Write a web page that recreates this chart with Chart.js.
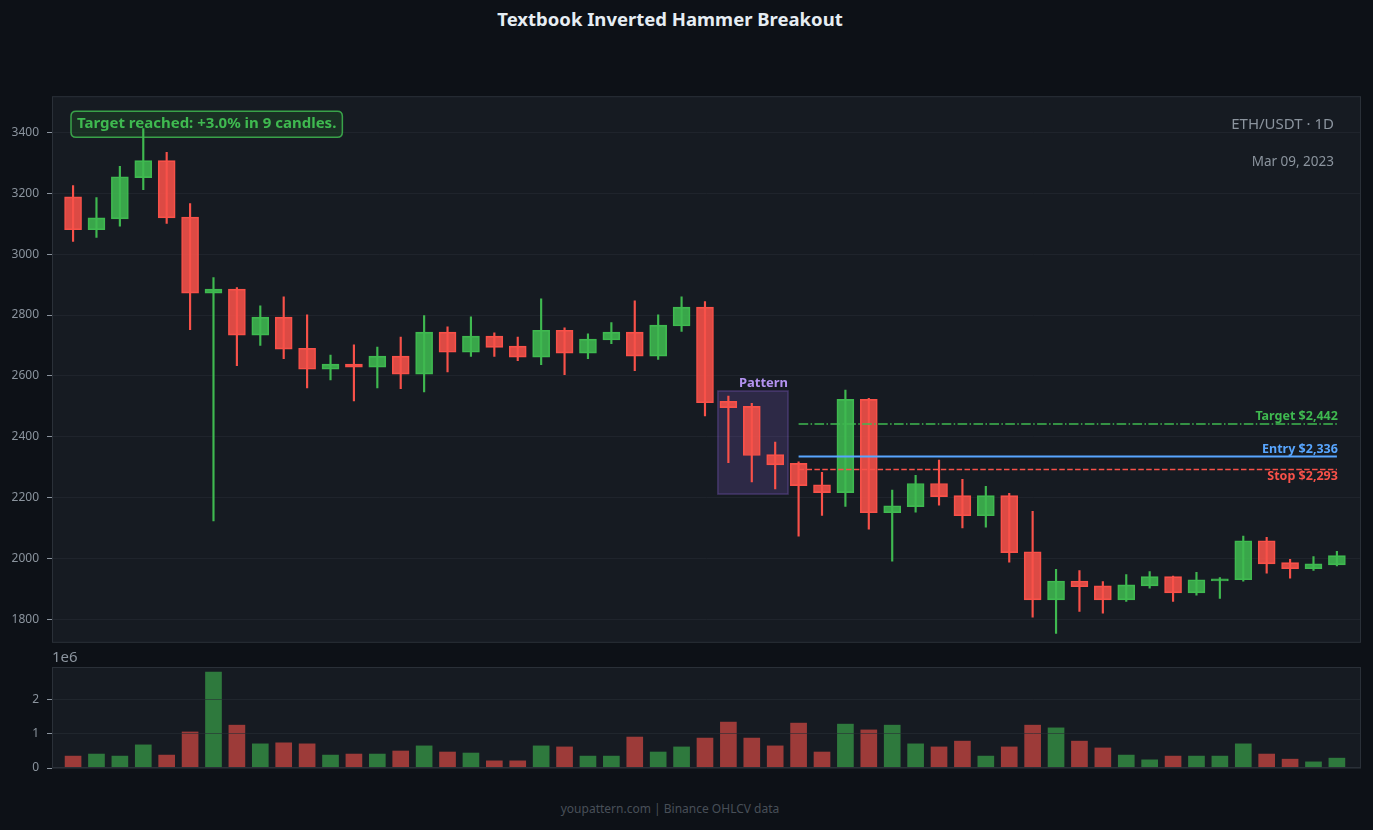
<!DOCTYPE html>
<html>
<head>
<meta charset="utf-8">
<title>Textbook Inverted Hammer Breakout</title>
<script src="https://cdn.jsdelivr.net/npm/chart.js@4.4.1/dist/chart.umd.min.js"></script>
<style>
  html, body { margin: 0; padding: 0; background: #0d1117; width: 1373px; height: 830px; overflow: hidden; font-family: 'Noto Sans', sans-serif; }
  canvas { position: absolute; left: 0; }
  #price { top: 81px; }
  #volume { top: 650px; }
  .txt { position: absolute; line-height: 1; white-space: nowrap; }
  #title { left: 0; width: 1340px; top: 10px; text-align: center; color: #e6edf3; font-weight: 700; font-size: 18.5px; }
  #exp { left: 52px; top: 649px; color: #8b949e; font-size: 15px; }
  #footer { left: 0; width: 1340px; top: 803px; text-align: center; color: #484f58; font-size: 12px; }
</style>
</head>
<body>
<div id="title" class="txt">Textbook Inverted Hammer Breakout</div>
<canvas id="volume" width="1373" height="135"></canvas>
<canvas id="price" width="1373" height="577"></canvas>
<div id="exp" class="txt">1e6</div>
<div id="footer" class="txt">youpattern.com | Binance OHLCV data</div>

<script>
// OHLCV, one entry per daily candle
var opens  = [3188, 3080, 3116, 3251, 3307, 3122, 2872, 2885, 2734, 2793,
              2691, 2622, 2639, 2629, 2665, 2606, 2744, 2678, 2731, 2698,
              2662, 2750, 2675, 2718, 2744, 2665, 2764, 2826, 2517, 2500,
              2342, 2313, 2243, 2217, 2523, 2151, 2171, 2247, 2207, 2141,
              2207, 2023, 1865, 1927, 1911, 1865, 1911, 1941, 1888, 1927,
              1931, 2059, 1987, 1967, 1980];
var highs  = [3225, 3186, 3288, 3412, 3334, 3166, 2923, 2890, 2830, 2860,
              2801, 2669, 2702, 2695, 2728, 2798, 2761, 2794, 2742, 2728,
              2853, 2758, 2738, 2775, 2847, 2801, 2860, 2844, 2534, 2510,
              2383, 2318, 2284, 2554, 2527, 2225, 2274, 2324, 2261, 2238,
              2215, 2156, 1965, 1961, 1925, 1948, 1958, 1943, 1955, 1938,
              2074, 2070, 1998, 2007, 2024];
var lows   = [3042, 3055, 3092, 3212, 3101, 2752, 2124, 2634, 2700, 2657,
              2561, 2587, 2518, 2561, 2558, 2548, 2613, 2664, 2664, 2650,
              2637, 2604, 2657, 2706, 2617, 2654, 2746, 2469, 2315, 2252,
              2229, 2074, 2142, 2172, 2097, 1992, 2153, 2176, 2101, 2104,
              1989, 1808, 1755, 1827, 1821, 1860, 1903, 1860, 1880, 1870,
              1926, 1953, 1936, 1962, 1976];
var closes = [3080, 3119, 3254, 3307, 3119, 2872, 2885, 2734, 2793, 2688,
              2622, 2639, 2629, 2665, 2606, 2744, 2678, 2731, 2694, 2662,
              2750, 2675, 2721, 2744, 2665, 2767, 2826, 2512, 2496, 2339,
              2308, 2240, 2217, 2523, 2151, 2174, 2247, 2204, 2141, 2207,
              2020, 1865, 1927, 1908, 1865, 1914, 1941, 1888, 1931, 1934,
              2059, 1983, 1967, 1983, 2010];
var volumes = [0.35, 0.41, 0.35, 0.68, 0.38, 1.06, 2.82, 1.26, 0.71, 0.74,
               0.71, 0.38, 0.41, 0.41, 0.50, 0.65, 0.47, 0.44, 0.21, 0.21,
               0.65, 0.62, 0.35, 0.35, 0.91, 0.47, 0.62, 0.88, 1.35, 0.88,
               0.65, 1.32, 0.47, 1.29, 1.12, 1.26, 0.71, 0.62, 0.79, 0.35,
               0.62, 1.26, 1.18, 0.79, 0.59, 0.38, 0.24, 0.35, 0.35, 0.35,
               0.71, 0.41, 0.26, 0.18, 0.29].map(function (v) { return v * 1e6; });

var priceTicks = [1800, 2000, 2200, 2400, 2600, 2800, 3000, 3200, 3400];
var volumeTicks = [0, 1e6, 2e6];

// trade levels and pattern candles
var targetPrice = 2442, entryPrice = 2336, stopPrice = 2293;
var levelStart = 31, levelEnd = 54;
var patternStart = 28, patternEnd = 30;

var GREEN = '#3fb950', RED = '#f85149', BLUE = '#58a6ff', PURPLE = '#b392f0';
var TEXT = '#8b949e';

var n = opens.length;
var bodyData = [], wickData = [], volData = [], solid = [], fill = [], volFill = [];
for (var i = 0; i < n; i++) {
    var up = closes[i] >= opens[i];
    bodyData.push({ x: i, y: [opens[i], closes[i]] });
    wickData.push({ x: i, y: [lows[i], highs[i]] });
    volData.push({ x: i, y: volumes[i] });
    solid.push(up ? GREEN : RED);
    fill.push(up ? 'rgba(63,185,80,0.88)' : 'rgba(248,81,73,0.88)');
    volFill.push(up ? 'rgba(63,185,80,0.6)' : 'rgba(248,81,73,0.6)');
}

function level(v) {
    return [{ x: levelStart, y: v }, { x: levelEnd, y: v }];
}

Chart.defaults.font.family = "'Noto Sans', sans-serif";

function areaBg(chart) {
    var a = chart.chartArea, ctx = chart.ctx;
    ctx.save();
    ctx.fillStyle = '#161b22';
    ctx.fillRect(a.left, a.top, a.right - a.left, a.bottom - a.top);
    ctx.restore();
}

function areaBorder(chart) {
    var a = chart.chartArea, ctx = chart.ctx;
    ctx.save();
    ctx.strokeStyle = '#2a3038';
    ctx.lineWidth = 1;
    ctx.strokeRect(a.left + 0.5, a.top + 0.5, a.right - a.left - 1, a.bottom - a.top - 1);
    ctx.restore();
}

function roundRect(ctx, x, y, w, h, r) {
    ctx.beginPath();
    ctx.moveTo(x + r, y);
    ctx.lineTo(x + w - r, y);
    ctx.quadraticCurveTo(x + w, y, x + w, y + r);
    ctx.lineTo(x + w, y + h - r);
    ctx.quadraticCurveTo(x + w, y + h, x + w - r, y + h);
    ctx.lineTo(x + r, y + h);
    ctx.quadraticCurveTo(x, y + h, x, y + h - r);
    ctx.lineTo(x, y + r);
    ctx.quadraticCurveTo(x, y, x + r, y);
    ctx.closePath();
}

var noteText = 'Target reached: +3.0% in 9 candles.';
var noteFont = "bold 15px 'Noto Sans', sans-serif";

var pricePlugin = {
    id: 'priceDeco',
    beforeDraw: areaBg,
    beforeDatasetsDraw: function (chart) {
        var ctx = chart.ctx, a = chart.chartArea;
        var xs = chart.scales.x, ys = chart.scales.y;

        // pattern box around the three candles
        var hi = Math.max.apply(null, highs.slice(patternStart, patternEnd + 1));
        var lo = Math.min.apply(null, lows.slice(patternStart, patternEnd + 1));
        var pad = (hi - lo) * 0.055;
        var x0 = xs.getPixelForValue(patternStart - 0.45);
        var x1 = xs.getPixelForValue(patternEnd + 0.55);
        var y0 = ys.getPixelForValue(hi + pad);
        var y1 = ys.getPixelForValue(lo - pad);
        ctx.save();
        ctx.fillStyle = 'rgba(163,113,247,0.17)';
        ctx.fillRect(x0, y0, x1 - x0, y1 - y0);
        ctx.strokeStyle = 'rgba(163,113,247,0.28)';
        ctx.lineWidth = 1.5;
        ctx.strokeRect(x0, y0, x1 - x0, y1 - y0);
        ctx.fillStyle = PURPLE;
        ctx.font = "bold 13px 'Noto Sans', sans-serif";
        ctx.textAlign = 'right';
        ctx.textBaseline = 'bottom';
        ctx.fillText('Pattern', x1, y0 - 1);

        // note box (top left)
        ctx.font = noteFont;
        var w = ctx.measureText(noteText).width + 12;
        roundRect(ctx, a.left + 19, a.top + 15, w, 26, 5);
        ctx.fillStyle = 'rgba(30,70,38,0.5)';
        ctx.fill();
        ctx.strokeStyle = 'rgba(63,185,80,0.85)';
        ctx.lineWidth = 1.5;
        ctx.stroke();
        ctx.restore();
    },
    afterDatasetsDraw: function (chart) {
        var ctx = chart.ctx, a = chart.chartArea;
        var xs = chart.scales.x, ys = chart.scales.y;
        ctx.save();

        ctx.font = noteFont;
        ctx.fillStyle = GREEN;
        ctx.textAlign = 'left';
        ctx.textBaseline = 'middle';
        ctx.fillText(noteText, a.left + 25, a.top + 28);

        // level labels
        var xr = xs.getPixelForValue(levelEnd) + 1;
        ctx.font = "bold 12.5px 'Noto Sans', sans-serif";
        ctx.textAlign = 'right';
        ctx.textBaseline = 'bottom';
        ctx.fillStyle = GREEN;
        ctx.fillText('Target $' + targetPrice.toLocaleString('en-US'), xr, ys.getPixelForValue(targetPrice) - 1);
        ctx.fillStyle = BLUE;
        ctx.fillText('Entry $' + entryPrice.toLocaleString('en-US'), xr, ys.getPixelForValue(entryPrice) - 1);
        ctx.textBaseline = 'top';
        ctx.fillStyle = RED;
        ctx.fillText('Stop $' + stopPrice.toLocaleString('en-US'), xr, ys.getPixelForValue(stopPrice) + 1);

        // symbol and date (top right)
        ctx.fillStyle = TEXT;
        ctx.textBaseline = 'alphabetic';
        ctx.font = "15px 'Noto Sans', sans-serif";
        ctx.fillText('ETH/USDT · 1D', a.right - 27, a.top + 33);
        ctx.font = "13.5px 'Noto Sans', sans-serif";
        ctx.fillText('Mar 09, 2023', a.right - 27, a.top + 70);
        ctx.restore();
        areaBorder(chart);
    }
};

var volPlugin = {
    id: 'volDeco',
    beforeDraw: areaBg,
    afterDraw: areaBorder
};

var xRange = { type: 'linear', min: -0.9, max: 55.03, offset: false, display: false };

new Chart(document.getElementById('price'), {
    type: 'bar',
    data: {
        datasets: [
            { type: 'line', data: level(targetPrice), borderColor: GREEN, borderWidth: 1.5,
              borderDash: [9.6, 2.4, 1.5, 2.4], pointRadius: 0, order: -3 },
            { type: 'line', data: level(entryPrice), borderColor: BLUE, borderWidth: 2,
              pointRadius: 0, order: -2 },
            { type: 'line', data: level(stopPrice), borderColor: RED, borderWidth: 1.5,
              borderDash: [5.5, 2.4], pointRadius: 0, order: -1 },
            { data: wickData, backgroundColor: solid, barThickness: 1.5, grouped: false, order: 0 },
            { data: bodyData, backgroundColor: fill, borderColor: solid, borderWidth: 1,
              borderSkipped: false, barThickness: 17, grouped: false, order: 1 }
        ]
    },
    options: {
        responsive: false,
        animation: false,
        layout: { padding: { top: 0, bottom: 0, left: 0, right: 12 } },
        plugins: { legend: { display: false }, tooltip: { enabled: false } },
        scales: {
            x: xRange,
            y: {
                min: 1724, max: 3518.5,
                afterFit: function (s) { s.width = 52; },
                afterBuildTicks: function (s) { s.ticks = priceTicks.map(function (v) { return { value: v }; }); },
                grid: { color: 'rgba(40,46,54,0.5)', tickColor: TEXT, tickLength: 5 },
                border: { display: false },
                ticks: { color: TEXT, font: { size: 12 }, padding: 8,
                         callback: function (v) { return String(v); } }
            }
        }
    },
    plugins: [pricePlugin]
});

new Chart(document.getElementById('volume'), {
    type: 'bar',
    data: {
        datasets: [
            { data: volData, backgroundColor: volFill, barThickness: 16 }
        ]
    },
    options: {
        responsive: false,
        animation: false,
        layout: { padding: { top: 17, bottom: 17, left: 0, right: 12 } },
        plugins: { legend: { display: false }, tooltip: { enabled: false } },
        scales: {
            x: xRange,
            y: {
                min: 0, max: 2.97e6,
                afterFit: function (s) { s.width = 52; },
                afterBuildTicks: function (s) { s.ticks = volumeTicks.map(function (v) { return { value: v }; }); },
                grid: { color: 'rgba(40,46,54,0.6)', tickColor: TEXT, tickLength: 5, z: 1 },
                border: { display: false },
                ticks: { color: TEXT, font: { size: 12 }, padding: 8,
                         callback: function (v) { return String(v / 1e6); } }
            }
        }
    },
    plugins: [volPlugin]
});
</script>
</body>
</html>
